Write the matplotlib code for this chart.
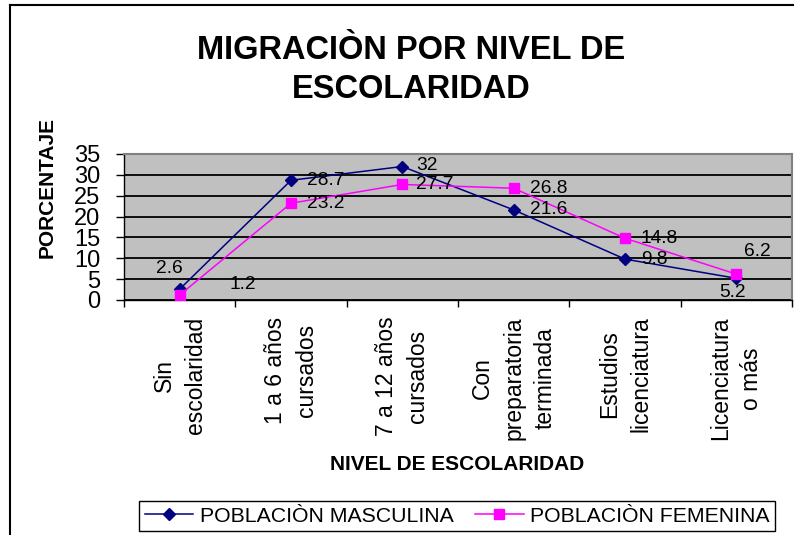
import matplotlib
matplotlib.use("Agg")
import matplotlib.pyplot as plt
import numpy as np
from matplotlib.lines import Line2D

plt.rcParams['font.family'] = ['Liberation Sans', 'DejaVu Sans']

categories = ["Sin\nescolaridad", "1 a 6 años\ncursados", "7 a 12 años\ncursados",
              "Con\npreparatoria\nterminada", "Estudios\nlicenciatura", "Licenciatura\no más"]
masculina = [2.6, 28.7, 32, 21.6, 9.8, 5.2]
femenina = [1.2, 23.2, 27.7, 26.8, 14.8, 6.2]
yticks = [0, 5, 10, 15, 20, 25, 30, 35]

# label offsets in pixels (dx, dy, ha)
off_m = [(-10, 21, 'center'), (16, 0, 'left'), (14, 1, 'left'), (16, 0, 'left'), (16, 0, 'left'), (-4, -14, 'center')]
off_f = [(63, 10, 'center'), (16, 0, 'left'), (14, 0, 'left'), (16, 0, 'left'), (16, 0, 'left'), (8, 23, 'left')]

W, H = 794, 535
fig = plt.figure(figsize=(W/100, H/100), dpi=100)
ax = fig.add_axes([124/W, 1-300/H, (792-124)/W, (300-154)/H])
ax.set_facecolor('#C0C0C0')

x = np.arange(len(categories))
ax.plot(x, masculina, color='#000080', marker='D', markersize=6, lw=1.1, zorder=3)
ax.plot(x, femenina, color='#FF00FF', marker='s', markersize=6.5, lw=1.1, zorder=3)

for xi, v, (dx, dy, ha) in zip(x, masculina, off_m):
    ax.annotate(f"{v:g}", (xi, v), xytext=(dx, dy), textcoords='offset pixels',
                ha=ha, va='center', fontsize=13.8, zorder=4)
for xi, v, (dx, dy, ha) in zip(x, femenina, off_f):
    ax.annotate(f"{v:g}", (xi, v), xytext=(dx, dy), textcoords='offset pixels',
                ha=ha, va='center', fontsize=13.8, zorder=4)

ax.set_xlim(-0.5, len(categories) - 0.5)
ax.set_ylim(0, 35)
ax.set_yticks(yticks)
ax.set_yticklabels([str(t) for t in yticks], fontsize=17)
ax.yaxis.grid(True, color='black', lw=1.3, zorder=1)
ax.set_axisbelow(True)
ax.tick_params(axis='y', length=6, width=1, pad=11)

ax.set_xticks(np.arange(-0.5, len(categories)), labels=[''] * (len(categories) + 1))
ax.tick_params(axis='x', which='major', length=5, width=1)
ax.set_xticks(x, minor=True)
ax.set_xticklabels(categories, minor=True, rotation=90, fontsize=16.5,
                   ha='center', va='top', multialignment='center', linespacing=1.45)
ax.tick_params(axis='x', which='minor', length=0, pad=12)

for s in ['left', 'bottom']:
    ax.spines[s].set_color('black')
    ax.spines[s].set_linewidth(1)
for s in ['top', 'right']:
    ax.spines[s].set_color('#808080')
    ax.spines[s].set_linewidth(1.5)

fig.text(411/W, 1-70/H, "MIGRACIÒN POR NIVEL DE\nESCOLARIDAD", ha='center', va='center',
         fontsize=23.5, fontweight='bold', linespacing=1.3)
fig.text(47/W, 1-188/H, "PORCENTAJE", rotation=90, ha='center', va='center',
         fontsize=15, fontweight='bold')
fig.text(457/W, 1-465/H, "NIVEL DE ESCOLARIDAD", ha='center', va='center',
         fontsize=15, fontweight='bold')

# chart area border (left and top visible)
fig.add_artist(Line2D([10/W, 10/W], [0, 1-5/H], color='black', lw=1.5, transform=fig.transFigure))
fig.add_artist(Line2D([10/W, 1], [1-5/H, 1-5/H], color='black', lw=1.5, transform=fig.transFigure))

handles = [Line2D([], [], color='#000080', marker='D', markersize=6, lw=1.1),
           Line2D([], [], color='#FF00FF', marker='s', markersize=6.5, lw=1.1)]
leg = fig.legend(handles, ["POBLACIÒN MASCULINA", "POBLACIÒN FEMENINA"], ncol=2,
                 loc='center', bbox_to_anchor=(457/W, 1-516/H), fontsize=15.3,
                 frameon=True, fancybox=False, edgecolor='black', framealpha=1,
                 handlelength=2.3, handletextpad=0.3, columnspacing=1.0,
                 borderpad=0.25, borderaxespad=0)
leg.get_frame().set_linewidth(1)

fig.savefig("out.png", dpi=100)
